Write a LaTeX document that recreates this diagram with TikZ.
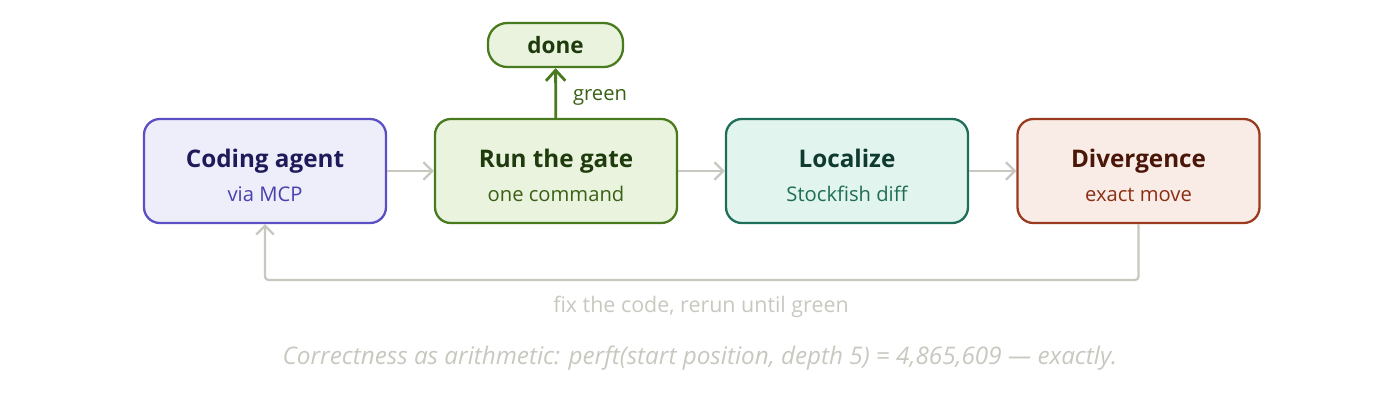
\documentclass[tikz,border=0pt]{standalone}
\usepackage{fontspec}
\setmainfont{Open Sans}
\usetikzlibrary{arrows.meta}
\definecolor{gr}{HTML}{C8C8C0}
\definecolor{aF}{HTML}{EEEEFB}\definecolor{aB}{HTML}{5B4FC4}\definecolor{aT}{HTML}{1F1B5A}\definecolor{aS}{HTML}{4A3FB0}
\definecolor{gF}{HTML}{E9F3DE}\definecolor{gB}{HTML}{4A7A1E}\definecolor{gT}{HTML}{1F3A0C}\definecolor{gS}{HTML}{3A6015}
\definecolor{lF}{HTML}{E2F4EE}\definecolor{lB}{HTML}{1E6E5A}\definecolor{lT}{HTML}{0E3A30}\definecolor{lS}{HTML}{1E6E55}
\definecolor{dF}{HTML}{F9ECE6}\definecolor{dB}{HTML}{9A3A1E}\definecolor{dT}{HTML}{4A1608}\definecolor{dS}{HTML}{8A2E14}
\tikzset{
 box/.style={draw, line width=1.3pt, rounded corners=9pt, minimum width=242*0.02cm, minimum height=104*0.02cm},
 ttl/.style={anchor=base, font=\fontsize{13.8}{16}\selectfont\bfseries},
 sub/.style={anchor=base, font=\fontsize{11.5}{13}\selectfont},
 conn/.style={draw=gr, line width=1.3pt, -{Straight Barb[length=5pt,width=10pt]}},
}
\begin{document}
\begin{tikzpicture}[x=0.02cm,y=-0.02cm]
\useasboundingbox (0,0) rectangle (1400,414);
\node[box, fill=aF, draw=aB] (a) at (265,171) {};
\node[box, fill=gF, draw=gB] (g) at (556,171) {};
\node[box, fill=lF, draw=lB] (l) at (847,171) {};
\node[box, fill=dF, draw=dB] (d) at (1138.5,171) {};
\node[ttl, text=aT] (at) at (265,167) {Coding agent};
\node[sub, text=aS] (as) at (265,201) {via MCP};
\node[ttl, text=gT] (gt) at (556,167) {Run the gate};
\node[sub, text=gS] (gs) at (556,201) {one command};
\node[ttl, text=lT] (lt) at (847,167) {Localize};
\node[sub, text=lS] (ls) at (847,201) {Stockfish diff};
\node[ttl, text=dT] (dt) at (1138.5,167) {Divergence};
\node[sub, text=dS] (ds) at (1138.5,201) {exact move};
\node[draw=gB, fill=gF, line width=1.3pt, rounded corners=11pt, minimum width=135*0.02cm, minimum height=44*0.02cm, text=gT, font=\fontsize{12.8}{14}\selectfont\bfseries] (done) at (555.5,45) {done};
\draw[conn] (a) -- (g);
\draw[conn] (g) -- (l);
\draw[conn] (l) -- (d);
\draw[line width=1.6pt, draw=gB, -{Straight Barb[length=6pt,width=11pt]}] (g) -- (done);
\node[sub, text=gS] (glab) at (600,100) {green};
\coordinate (c1) at (1138.5,280);
\coordinate (c2) at (265,280);
\draw[conn, rounded corners=2pt] (d.south) -- (c1) -- (c2) -- (a.south);
\node[anchor=base, text=gr, font=\fontsize{12.2}{14}\selectfont] (fb) at (701,312) {fix the code, rerun until green};
\node[anchor=base, text=gr, font=\fontsize{13.8}{16}\selectfont\itshape] (foot) at (700,364) {Correctness as arithmetic: perft(start position, depth 5) = 4,865,609 — exactly.};
\end{tikzpicture}
\end{document}
